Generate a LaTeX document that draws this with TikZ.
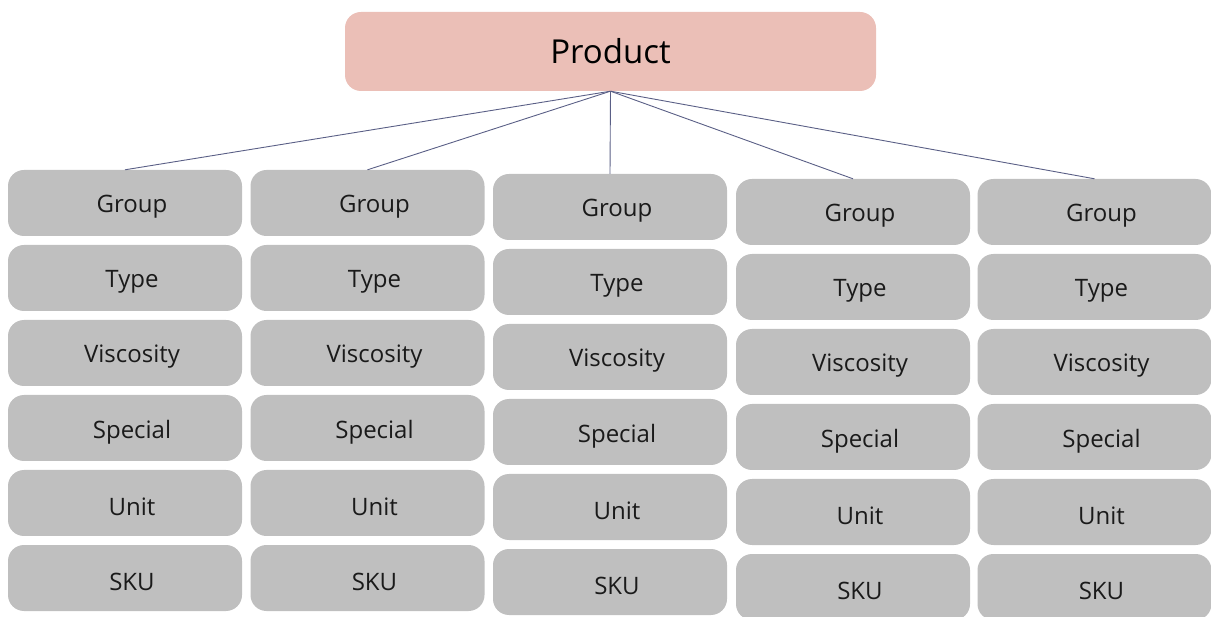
\documentclass[tikz,border=0pt]{standalone}
\usepackage{fontspec}
\setmainfont{Open Sans}
\definecolor{rootfill}{HTML}{EBBFB7}
\definecolor{cellfill}{HTML}{BFBFBF}
\definecolor{linkcol}{HTML}{5A5F86}
\definecolor{celltext}{HTML}{1A1A1A}
\tikzset{
  rootbox/.style={fill=rootfill, rounded corners=16pt, minimum width=531pt,
    minimum height=79pt, inner sep=0pt, font=\fontsize{33}{40}\selectfont, text=black},
  cellbox/.style={fill=cellfill, rounded corners=16pt, minimum width=234pt,
    minimum height=66pt, inner sep=0pt},
  celllabel/.style={font=\fontsize{24}{28}\selectfont, text=celltext,
    xshift=7pt, yshift=-4pt, inner sep=0pt},
  link/.style={draw=linkcol, line width=0.9pt}
}
\begin{document}
\begin{tikzpicture}[x=1pt,y=-1pt]
  \useasboundingbox (0,0) rectangle (1211,617);
  \clip (0,0) rectangle (1211,617);
  \node[rootbox] (prod) at (610.5,51.5) {Product};
  % five attribute columns: centre x / top of first cell
  \foreach \col/\cx/\top in {1/125/170, 2/367.5/170, 3/610/174, 4/853/179, 5/1094.5/179} {
    \foreach \row/\txt in {1/Group, 2/Type, 3/Viscosity, 4/Special, 5/Unit, 6/SKU} {
      \node[cellbox, label={[celllabel, name=t\col r\row]center:\txt}]
        (c\col r\row) at (\cx, {\top + 33 + 75*(\row-1)}) {};
    }
    \draw[link] (prod.south) -- (c\col r1.north);
  }
\end{tikzpicture}
\end{document}
